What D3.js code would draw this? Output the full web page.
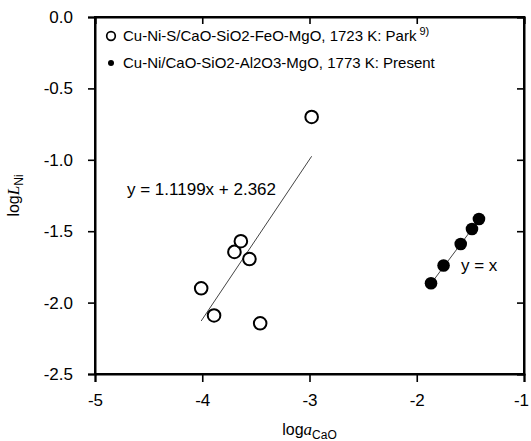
<!DOCTYPE html>
<html><head><meta charset="utf-8">
<script src="https://cdn.jsdelivr.net/npm/d3@7"></script>
<style>
body{margin:0;background:#fff;}
svg text{font-family:"Liberation Sans",Arial,sans-serif;fill:#000;}
</style></head>
<body><svg id="c" width="531" height="441"></svg>
<script>
// Data
const parkX = [-2.98, -4.01, -3.89, -3.70, -3.64, -3.56, -3.46];
const parkY = [-0.70, -1.90, -2.09, -1.645, -1.57, -1.695, -2.145];
const presentX = [-1.867, -1.75, -1.59, -1.485, -1.42];
const presentY = [-1.865, -1.74, -1.59, -1.485, -1.415];
const fitSlope = 1.1199, fitIntercept = 2.362;
const fitRange = [-4.01, -2.98];
const identityRange = [-1.867, -1.42];
const xTicks = [-5, -4, -3, -2, -1];
const yTicks = [0, -0.5, -1.0, -1.5, -2.0, -2.5];
const legendLabels = ["Cu-Ni-S/CaO-SiO2-FeO-MgO, 1723 K: Park", "Cu-Ni/CaO-SiO2-Al2O3-MgO, 1773 K: Present"];

const svg = d3.select("#c");
const L = 95, R = 524, T = 17, B = 374;
const x = d3.scaleLinear().domain([-5, -1]).range([L, R]);
const y = d3.scaleLinear().domain([-2.5, 0]).range([B, T]);
const hy = f => d => f(d).replace("\u2212", "-");

// axes
const axB = svg.append("g").attr("transform", `translate(0,${B})`)
  .call(d3.axisBottom(x).tickValues(xTicks).tickSize(8).tickPadding(12).tickFormat(hy(d3.format("d"))));
const axL = svg.append("g").attr("transform", `translate(${L},0)`)
  .call(d3.axisLeft(y).tickValues(yTicks).tickSize(7).tickPadding(15).tickFormat(hy(d3.format(".1f"))));
const axT = svg.append("g").attr("transform", `translate(0,${T})`)
  .call(d3.axisBottom(x).tickValues(xTicks).tickSize(7).tickFormat(""));
const axR = svg.append("g").attr("transform", `translate(${R},0)`)
  .call(d3.axisLeft(y).tickValues(yTicks).tickSize(7).tickFormat(""));
[axB, axL, axT, axR].forEach(g => {
  g.select(".domain").attr("stroke", "#000").attr("stroke-width", 2);
  g.selectAll(".tick line").attr("stroke", "#000").attr("stroke-width", 1.6);
  g.selectAll(".tick text").attr("font-size", 17).attr("font-family", "Liberation Sans, Arial, sans-serif").attr("fill", "#111");
});
axB.selectAll(".tick text").attr("dy", "0.71em");
axB.selectAll(".tick text").filter(d => d === -1).attr("dx", -3);
svg.append("rect").attr("x", L).attr("y", T).attr("width", R - L).attr("height", B - T)
  .attr("fill", "none").attr("stroke", "#000").attr("stroke-width", 2);

// fit lines
const line = d3.line().x(d => x(d[0])).y(d => y(d[1]));
svg.append("path").datum(fitRange.map(v => [v, fitSlope * v + fitIntercept]))
  .attr("d", line).attr("stroke", "#444").attr("stroke-width", 1).attr("fill", "none");
svg.append("path").datum(identityRange.map(v => [v, v]))
  .attr("d", line).attr("stroke", "#444").attr("stroke-width", 1).attr("fill", "none");

// points
svg.append("g").selectAll("circle").data(parkX.map((v, i) => [v, parkY[i]])).join("circle")
  .attr("cx", d => x(d[0])).attr("cy", d => y(d[1])).attr("r", 6.3)
  .attr("fill", "#fff").attr("stroke", "#000").attr("stroke-width", 2);
svg.append("g").selectAll("circle").data(presentX.map((v, i) => [v, presentY[i]])).join("circle")
  .attr("cx", d => x(d[0])).attr("cy", d => y(d[1])).attr("r", 6.3)
  .attr("fill", "#000");

// equation labels
svg.append("text").attr("x", 127).attr("y", 195).attr("font-size", 17).text("y = 1.1199x + 2.362");
svg.append("text").attr("x", 461).attr("y", 271).attr("font-size", 17).text("y = x");

// legend
svg.append("circle").attr("cx", 111).attr("cy", 36).attr("r", 4.3).attr("fill", "#fff").attr("stroke", "#000").attr("stroke-width", 1.7);
svg.append("circle").attr("cx", 111).attr("cy", 63).attr("r", 3).attr("fill", "#000");
const t1 = svg.append("text").attr("x", 123).attr("y", 41).attr("font-size", 15);
t1.append("tspan").text(legendLabels[0]);
t1.append("tspan").attr("dx", 3).attr("dy", -6).attr("font-size", 11).text("9)");
svg.append("text").attr("x", 123).attr("y", 68).attr("font-size", 15).text(legendLabels[1]);

// axis titles
const xt = svg.append("text").attr("x", x(-3)).attr("y", 435).attr("text-anchor", "middle").attr("font-size", 16);
xt.append("tspan").text("log");
xt.append("tspan").attr("font-style", "italic").attr("font-family", "Liberation Serif, Times New Roman, serif").attr("font-size", 17).text("a");
xt.append("tspan").attr("dy", 4).attr("font-size", 12).text("CaO");
const yt = svg.append("text").attr("transform", `translate(19,${y(-1.25) + 0})rotate(-90)`).attr("text-anchor", "middle").attr("font-size", 16);
yt.append("tspan").text("log");
yt.append("tspan").attr("font-style", "italic").attr("font-family", "Liberation Serif, Times New Roman, serif").attr("font-size", 17).text("L");
yt.append("tspan").attr("dy", 4).attr("font-size", 12).text("Ni");
</script></body></html>
